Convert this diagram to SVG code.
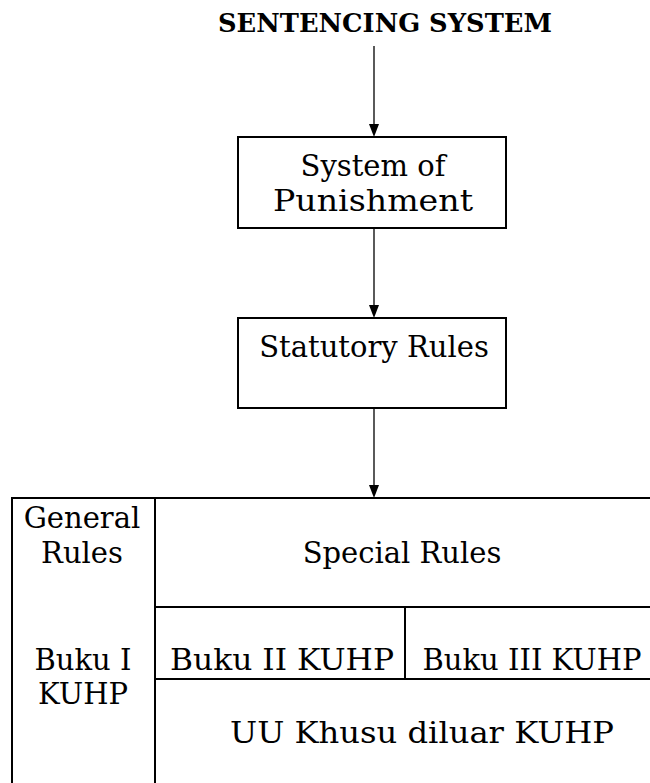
<svg xmlns="http://www.w3.org/2000/svg" width="650" height="783" viewBox="0 0 650 783">
<style>
  .t { font-family: "DejaVu Serif", "Liberation Serif", serif; font-size: 29px; fill: #000; text-anchor: middle; }
  .title { font-family: "DejaVu Serif", "Liberation Serif", serif; font-size: 26px; font-weight: bold; fill: #000; text-anchor: middle; }
  .box { fill: #fff; stroke: #000; stroke-width: 2; }
  .ln { stroke: #000; stroke-width: 2; fill: none; }
  .conn { stroke: #000; stroke-width: 1.3; fill: none; }
  .head { fill: #000; }
</style>
<rect width="650" height="783" fill="#fff"/>
<g id="title">
  <text class="title" x="385" y="32" textLength="334" lengthAdjust="spacingAndGlyphs">SENTENCING SYSTEM</text>
</g>
<g id="connectors">
  <line class="conn" x1="374" y1="46" x2="374" y2="126"/>
  <path class="head" d="M369,124 L379,124 L374,137 Z"/>
  <line class="conn" x1="374" y1="229" x2="374" y2="307"/>
  <path class="head" d="M369,305 L379,305 L374,318 Z"/>
  <line class="conn" x1="374" y1="409" x2="374" y2="487"/>
  <path class="head" d="M369,485 L379,485 L374,498 Z"/>
</g>
<g id="system-of-punishment">
  <rect class="box" x="238" y="137" width="268" height="91"/>
  <text class="t" x="373" y="176">System of</text>
  <text class="t" x="373" y="211" textLength="200" lengthAdjust="spacingAndGlyphs">Punishment</text>
</g>
<g id="statutory-rules">
  <rect class="box" x="238" y="318" width="268" height="90"/>
  <text class="t" x="374" y="357">Statutory Rules</text>
</g>
<g id="table">
  <line class="ln" x1="11" y1="498" x2="650" y2="498"/>
  <line class="ln" x1="12" y1="497" x2="12" y2="783"/>
  <line class="ln" x1="155" y1="497" x2="155" y2="783"/>
  <line class="ln" x1="155" y1="607" x2="650" y2="607"/>
  <line class="ln" x1="405" y1="607" x2="405" y2="679"/>
  <line class="ln" x1="155" y1="679" x2="650" y2="679"/>
</g>
<g id="general-rules">
  <text class="t" x="82" y="528">General</text>
  <text class="t" x="82" y="563">Rules</text>
  <text class="t" x="83" y="670">Buku I</text>
  <text class="t" x="83" y="704">KUHP</text>
</g>
<g id="special-rules">
  <text class="t" x="402" y="563">Special Rules</text>
</g>
<g id="buku-ii">
  <text class="t" x="282" y="670" textLength="224" lengthAdjust="spacingAndGlyphs">Buku II KUHP</text>
</g>
<g id="buku-iii">
  <text class="t" x="532" y="670">Buku III KUHP</text>
</g>
<g id="uu-khusus">
  <text class="t" x="422" y="743" textLength="384" lengthAdjust="spacingAndGlyphs">UU Khusu diluar KUHP</text>
</g>
</svg>
